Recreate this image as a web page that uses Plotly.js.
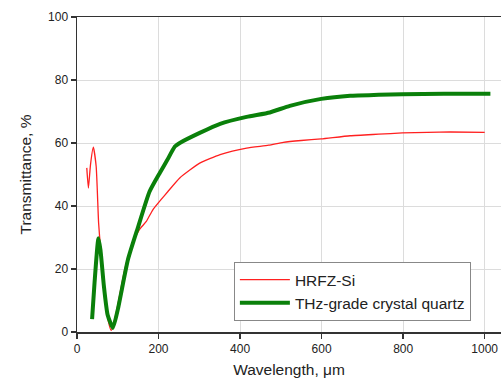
<!DOCTYPE html>
<html>
<head>
<meta charset="utf-8">
<script src="https://cdn.plot.ly/plotly-3.0.1.min.js"></script>
<style>html,body{margin:0;padding:0;background:#fff;}#chart{width:501px;height:381px;}</style>
</head>
<body>
<div id="chart"></div>
<script>
var siName = "HRFZ-Si";
var siX = [24, 28, 33, 40, 47, 53, 58, 67, 77, 84, 96, 117, 137, 153, 170, 186, 206, 223, 252, 301, 351, 416, 470, 506, 550, 599, 670, 740, 798, 860, 916, 1000];
var siY = [52.1, 45.7, 53, 58.7, 52.6, 34.6, 26.1, 13.4, 3.4, 0.5, 6, 19.8, 28.3, 32.5, 35.1, 38.8, 42, 44.6, 48.9, 53.6, 56.3, 58.4, 59.3, 60.2, 60.8, 61.3, 62.3, 62.8, 63.2, 63.4, 63.5, 63.4];

var qzName = "THz-grade crystal quartz";
var qzX = [37, 43, 52.5, 57.5, 66, 75, 88, 100, 125, 149, 178, 203, 221, 240, 252, 301, 351, 416, 473, 522, 599, 670, 740, 798, 900, 1014];
var qzY = [4.1, 15.6, 29.8, 26.1, 14.5, 5.5, 1.3, 7.1, 23, 33, 44.6, 50.5, 54.5, 58.9, 60, 63.2, 66.1, 68.3, 69.7, 71.8, 74, 75, 75.3, 75.5, 75.6, 75.6];

var xTicks = [0, 200, 400, 600, 800, 1000];
var yTicks = [0, 20, 40, 60, 80, 100];

var font = "Liberation Sans, Arial, sans-serif";

var traces = [
  {x: siX, y: siY, name: siName, type: "scatter", mode: "lines",
   line: {color: "#ff2020", width: 1.3, shape: "spline", smoothing: 0.5}},
  {x: qzX, y: qzY, name: qzName, type: "scatter", mode: "lines",
   line: {color: "#0a800a", width: 4, shape: "spline", smoothing: 0.5}}
];

var layout = {
  width: 501, height: 381,
  margin: {l: 77, r: 0, t: 17, b: 49, pad: 0},
  paper_bgcolor: "#fff", plot_bgcolor: "#fff",
  font: {family: font, size: 12, color: "#222"},
  showlegend: true,
  legend: {x: 0.370, y: 0.222, xanchor: "left", yanchor: "top",
    bgcolor: "#fff", bordercolor: "#888", borderwidth: 1,
    itemwidth: 50,
    font: {family: font, size: 15.5, color: "#222"}, tracegroupgap: 0},
  xaxis: {range: [0, 1040], tickvals: xTicks, ticktext: xTicks.map(String),
    showgrid: true, gridcolor: "#dcdcdc", gridwidth: 1, zeroline: false,
    showline: true, linecolor: "#333", linewidth: 1.5, mirror: true,
    ticks: "outside", ticklen: 5, tickcolor: "#333", tickwidth: 1.5,
    tickfont: {family: font, size: 12, color: "#222"},
    title: {text: "Wavelength, μm", font: {family: font, size: 15.5, color: "#222"}, standoff: 9}},
  yaxis: {range: [0, 100], tickvals: yTicks, ticktext: yTicks.map(String),
    showgrid: true, gridcolor: "#dcdcdc", gridwidth: 1, zeroline: false,
    showline: true, linecolor: "#333", linewidth: 1.5,
    ticks: "outside", ticklen: 5, tickcolor: "#333", tickwidth: 1.5,
    tickfont: {family: font, size: 12, color: "#222"},
    title: {text: "Transmittance, %", font: {family: font, size: 15.5, color: "#222"}, standoff: 12}}
};

Plotly.newPlot("chart", traces, layout, {displayModeBar: false, staticPlot: true});
</script>
</body>
</html>
